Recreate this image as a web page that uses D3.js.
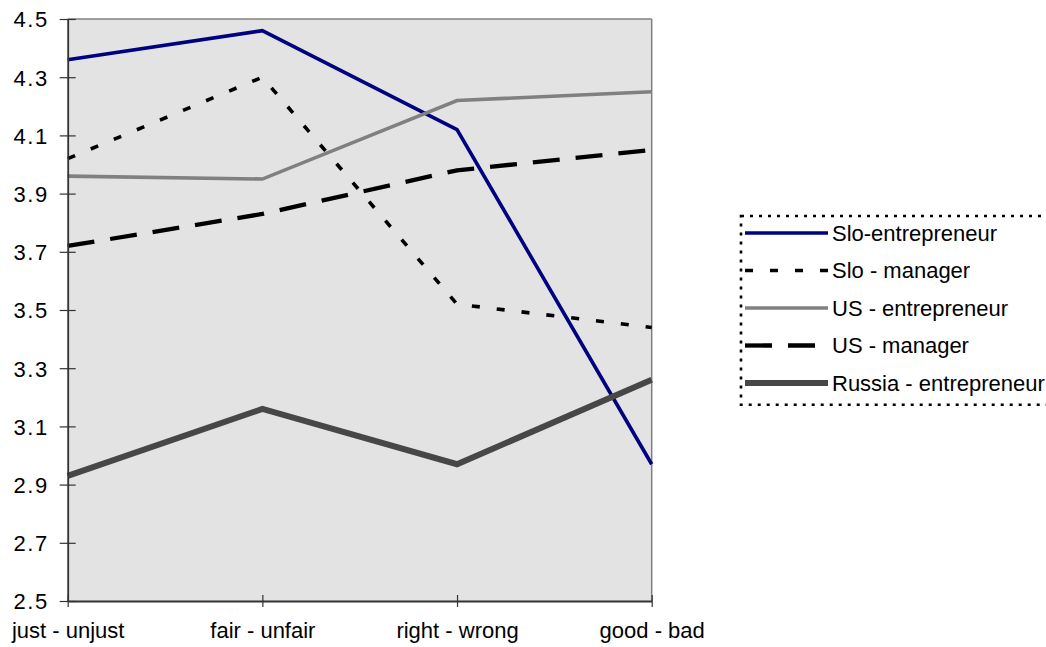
<!DOCTYPE html>
<html>
<head>
<meta charset="utf-8">
<script src="https://cdn.jsdelivr.net/npm/d3@7"></script>
<style>
  html, body { margin: 0; padding: 0; background: #fff; }
  svg { display: block; }
  text { font-family: "Liberation Sans", Arial, sans-serif; fill: #000; }
</style>
</head>
<body>
<svg id="chart" width="1046" height="647"></svg>
<script>
const categories = ["just - unjust", "fair - unfair", "right - wrong", "good - bad"];
const seriesNames = ["Slo-entrepreneur", "Slo - manager", "US - entrepreneur", "US - manager", "Russia - entrepreneur"];
const sloEntrepreneur = [4.36, 4.46, 4.12, 2.97];
const sloManager = [4.02, 4.30, 3.52, 3.44];
const usEntrepreneur = [3.96, 3.95, 4.22, 4.25];
const usManager = [3.72, 3.83, 3.98, 4.05];
const russiaEntrepreneur = [2.93, 3.16, 2.97, 3.26];
const yTicks = [2.5, 2.7, 2.9, 3.1, 3.3, 3.5, 3.7, 3.9, 4.1, 4.3, 4.5];

const styles = [
  { color: "#000080", width: 3.6, dash: null },
  { color: "#000000", width: 3.6, dash: "8,17" },
  { color: "#808080", width: 3.6, dash: null },
  { color: "#000000", width: 4.3, dash: "27,16" },
  { color: "#474747", width: 6, dash: null }
];
const seriesValues = [sloEntrepreneur, sloManager, usEntrepreneur, usManager, russiaEntrepreneur];

const svg = d3.select("#chart");
const L = 67.7, R = 651.7, T = 19, B = 601;

const x = d3.scalePoint().domain(categories).range([L, R]);
const y = d3.scaleLinear().domain([2.5, 4.5]).range([B, T]);

// plot area
svg.append("rect").attr("x", L).attr("y", T).attr("width", R - L).attr("height", B - T)
  .attr("fill", "#e3e3e3");
svg.append("line").attr("x1", L).attr("x2", R).attr("y1", T).attr("y2", T)
  .attr("stroke", "#808080").attr("stroke-width", 1.5);
svg.append("line").attr("x1", R).attr("x2", R).attr("y1", T).attr("y2", B)
  .attr("stroke", "#808080").attr("stroke-width", 1.5);

// lines
const line = d3.line().x((d, i) => x(categories[i])).y(d => y(d));
seriesValues.forEach((vals, k) => {
  const s = styles[k];
  svg.append("path").datum(vals).attr("d", line)
    .attr("fill", "none").attr("stroke", s.color).attr("stroke-width", s.width)
    .attr("stroke-dasharray", s.dash).attr("stroke-linejoin", "miter");
});

// y axis
const yAxis = d3.axisLeft(y).tickValues(yTicks).tickFormat(d3.format(".1f"))
  .tickSizeInner(0).tickSizeOuter(0).tickPadding(20);
const gy = svg.append("g").attr("transform", `translate(${L},0)`).call(yAxis);
gy.select(".domain").attr("stroke", "#333").attr("stroke-width", 1.8);
gy.selectAll(".tick").append("line").attr("x1", -8).attr("x2", 8)
  .attr("stroke", "#333").attr("stroke-width", 1.2);
gy.selectAll(".tick text").attr("font-size", 22).attr("letter-spacing", "1.5px")
  .attr("font-family", "Liberation Sans, Arial, sans-serif").attr("fill", "#000")
  .attr("x", -19).attr("dy", "0.36em");

// x axis
const xAxis = d3.axisBottom(x).tickSizeInner(0).tickSizeOuter(0).tickPadding(35);
const gx = svg.append("g").attr("transform", `translate(0,${B})`).call(xAxis);
gx.select(".domain").attr("stroke", "#333").attr("stroke-width", 1.8);
gx.selectAll(".tick").append("line").attr("y1", -6).attr("y2", 6)
  .attr("stroke", "#333").attr("stroke-width", 1.2);
gx.selectAll(".tick text").attr("font-size", 22)
  .attr("font-family", "Liberation Sans, Arial, sans-serif").attr("fill", "#000")
  .attr("y", 37).attr("dy", "0");

// legend
const lg = svg.append("g");
lg.append("rect").attr("x", 741).attr("y", 216).attr("width", 307).attr("height", 188.7)
  .attr("fill", "#fff").attr("stroke", "#000").attr("stroke-width", 2.6)
  .attr("stroke-dasharray", "3,6");
const rowY = d3.scaleLinear().domain([0, 4]).range([233, 383]);
seriesNames.forEach((name, k) => {
  const s = styles[k];
  const yy = rowY(k);
  lg.append("line").attr("x1", 745).attr("x2", 828).attr("y1", yy).attr("y2", yy)
    .attr("stroke", s.color).attr("stroke-width", s.width).attr("stroke-dasharray", s.dash);
  lg.append("text").attr("x", 832).attr("y", yy).attr("dy", "0.36em")
    .attr("font-size", 22).text(name);
});
</script>
</body>
</html>
